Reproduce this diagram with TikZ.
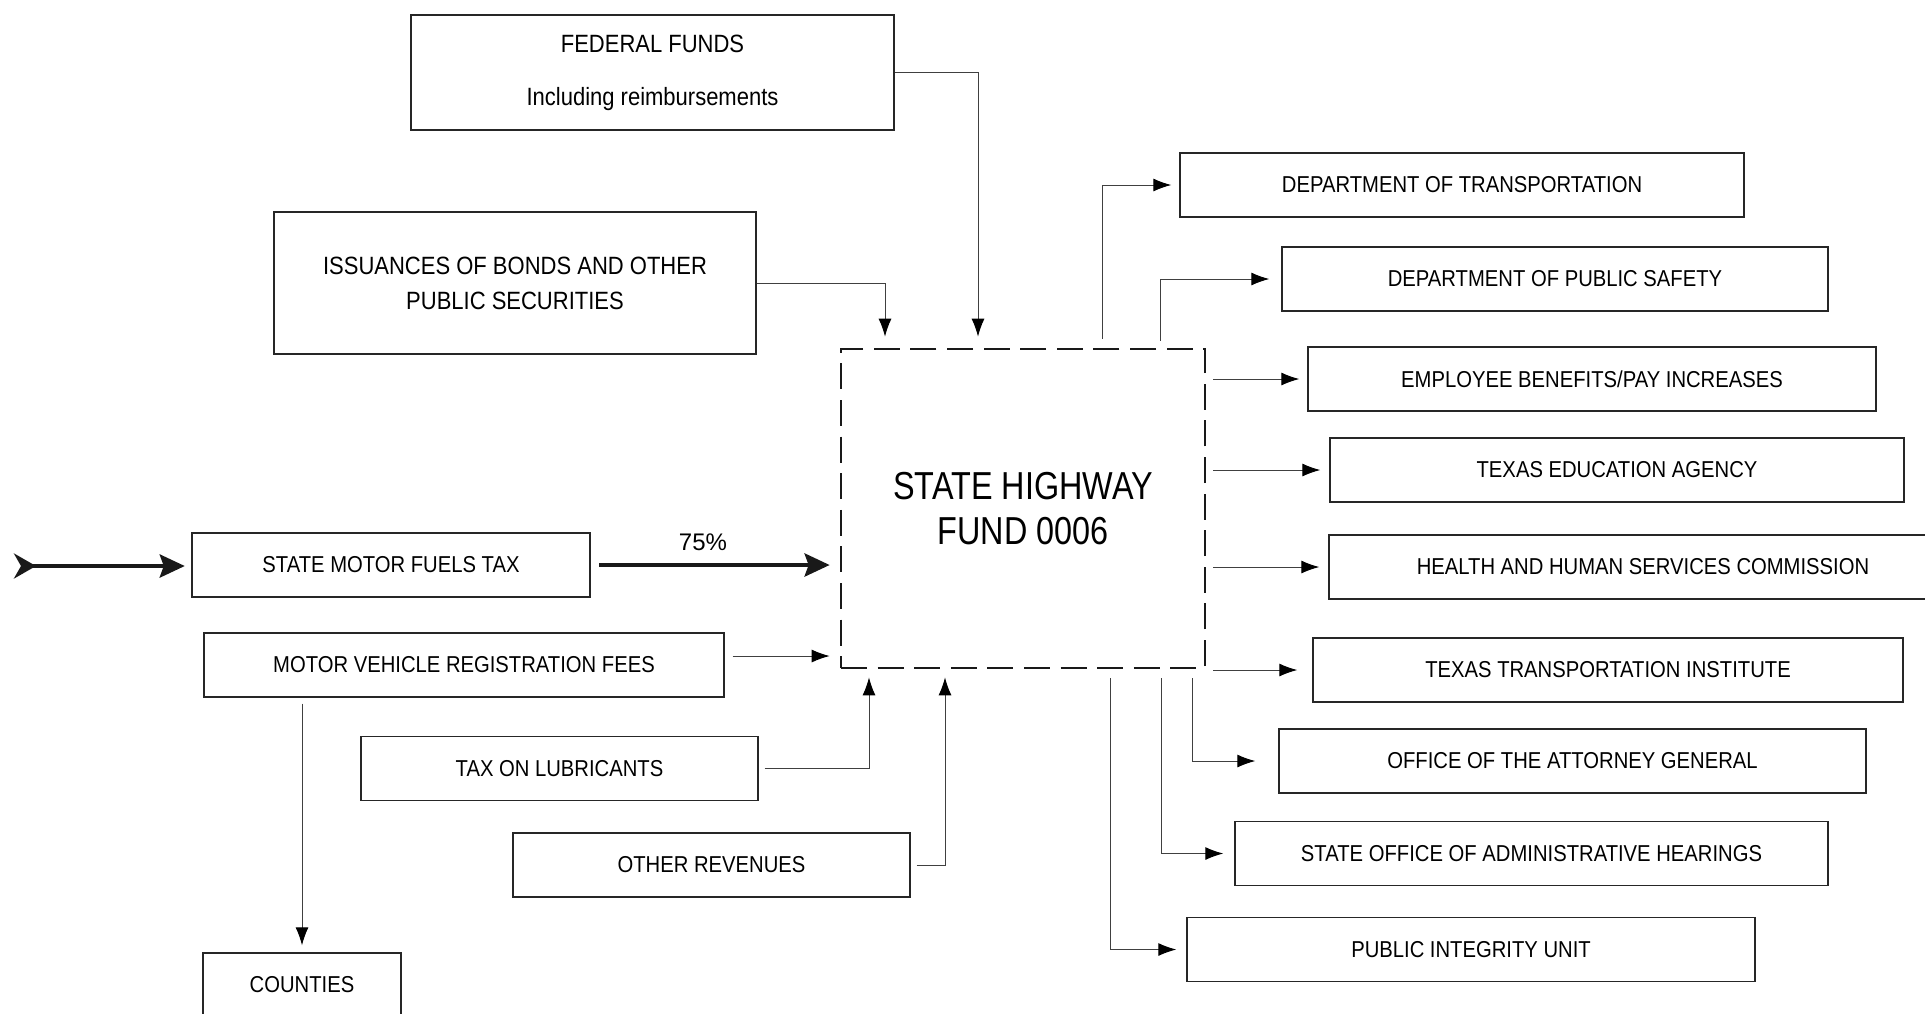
\documentclass[tikz,border=0pt]{standalone}
\usepackage{fontspec}
\setmainfont{Liberation Sans}[FakeStretch=0.88]
\newfontfamily\titlefont{Liberation Sans}[FakeStretch=0.83]
\newfontfamily\plainfont{Liberation Sans}
\usetikzlibrary{arrows.meta}
\begin{document}
\begin{tikzpicture}[x=0.5bp,y=-0.5bp,line join=miter,
  box/.style={draw=black!85,line width=0.7bp,inner sep=0pt,minimum height=32bp,
    font=\fontsize{11.5bp}{14bp}\selectfont},
  topbox/.style={box,align=center,font=\fontsize{12.5bp}{15bp}\selectfont},
  fundbox/.style={draw=black!90,line width=1.35bp,dash pattern=on 13bp off 5.3bp,
    inner sep=0pt,align=center,font=\titlefont\fontsize{19.5bp}{22.5bp}\selectfont},
  flow/.style={draw=black!75,line width=0.5bp,-{Latex[length=9bp,width=6.5bp,color=black]}},
  bigflow/.style={draw=black!90,line width=2.1bp,-{Stealth[length=12.5bp,width=11.5bp,inset=2bp]}}]
\useasboundingbox (0,0) rectangle (1925,1013);
%%
\node (node_fed) at (652.5,72.5) [topbox,minimum width=241.5bp,minimum height=57.5bp] {FEDERAL FUNDS\\[11.5bp]Including reimbursements};
  \node (node_bonds) at (515,283) [topbox,minimum width=241bp,minimum height=71bp] {ISSUANCES OF BONDS AND OTHER\\[2.5bp]PUBLIC SECURITIES};
  \node (node_fuels) at (391,565) [box,line width=1.2bp,minimum width=199bp] {STATE MOTOR FUELS TAX};
  \node (node_mvr) at (464,665) [box,minimum width=260bp] {MOTOR VEHICLE REGISTRATION FEES};
  \node (node_lub) at (559.5,768.5) [box,minimum width=198.5bp] {TAX ON LUBRICANTS};
  \node (node_other) at (711.5,865) [box,minimum width=198.5bp] {OTHER REVENUES};
  \node (node_counties) at (302,985) [box,minimum width=99bp] {COUNTIES};
  \node (node_fund) at (1023,508.5) [fundbox,minimum width=182bp,minimum height=159.5bp] {STATE HIGHWAY\\FUND 0006};
  \node (node_dot) at (1462,185) [box,minimum width=282bp] {DEPARTMENT OF TRANSPORTATION};
  \node (node_dps) at (1555,279) [box,minimum width=273bp] {DEPARTMENT OF PUBLIC SAFETY};
  \node (node_emp) at (1592,379) [box,minimum width=284bp] {EMPLOYEE BENEFITS/PAY INCREASES};
  \node (node_tea) at (1617,470) [box,minimum width=287bp] {TEXAS EDUCATION AGENCY};
  \node (node_hhs) at (1643,567) [box,minimum width=314bp] {HEALTH AND HUMAN SERVICES COMMISSION};
  \node (node_tti) at (1608,670) [box,minimum width=295bp] {TEXAS TRANSPORTATION INSTITUTE};
  \node (node_oag) at (1572.5,761) [box,minimum width=293.5bp] {OFFICE OF THE ATTORNEY GENERAL};
  \node (node_soah) at (1531.5,853.5) [box,minimum width=296.5bp] {STATE OFFICE OF ADMINISTRATIVE HEARINGS};
  \node (node_piu) at (1471,949.5) [box,minimum width=284bp] {PUBLIC INTEGRITY UNIT};
  \coordinate (fuels_in) at (14,566);
%
  \draw [bigflow,{Stealth[length=11bp,width=12.5bp,inset=3.5bp,reversed]}-{Stealth[length=12.5bp,width=11.5bp,inset=2bp]},shorten >=3bp] (fuels_in) -- (fuels_in -| node_fuels.west);
  \draw [bigflow,shorten <=4bp,shorten >=5bp] (node_fuels.east) -- (node_fuels.east -| node_fund.west)
    node [pos=0.45,above=3bp,font=\plainfont\fontsize{12bp}{14bp}\selectfont] {75\%};
  \draw [flow,shorten >=5.5bp] (node_fed.east) -| ([xshift=-22.5bp]node_fund.north);
  \draw [flow,shorten >=5.5bp] (node_bonds.east) -| ([xshift=-69bp]node_fund.north);
  \draw [flow,shorten <=4bp,shorten >=5bp] ([yshift=4.5bp]node_mvr.east) -- ([yshift=4.5bp]node_mvr.east -| node_fund.west);
  \draw [flow,shorten <=3bp,shorten >=3.5bp] (node_mvr.south -| node_counties.north) -- (node_counties.north);
  \draw [flow,shorten <=3bp,shorten >=4bp] (node_lub.east) -| ([xshift=-77bp]node_fund.south);
  \draw [flow,shorten <=3bp,shorten >=4bp] (node_other.east) -| ([xshift=-39bp]node_fund.south);
%
  \draw [flow,shorten <=4.5bp,shorten >=4bp] ([xshift=39.5bp]node_fund.north) |- (node_dot.west);
  \draw [flow,shorten <=3.5bp,shorten >=6bp] ([xshift=68.5bp]node_fund.north) |- (node_dps.west);
  \draw [flow,shorten <=3.5bp,shorten >=4bp] (node_fund.east |- node_emp.west) -- (node_emp.west);
  \draw [flow,shorten <=3.5bp,shorten >=4.5bp] (node_fund.east |- node_tea.west) -- (node_tea.west);
  \draw [flow,shorten <=3.5bp,shorten >=4.5bp] (node_fund.east |- node_hhs.west) -- (node_hhs.west);
  \draw [flow,shorten <=3.5bp,shorten >=7.5bp] (node_fund.east |- node_tti.west) -- (node_tti.west);
  \draw [flow,shorten <=4.5bp,shorten >=11.5bp] ([xshift=84.5bp]node_fund.south) |- (node_oag.west);
  \draw [flow,shorten <=4.5bp,shorten >=5.5bp] ([xshift=69bp]node_fund.south) |- (node_soah.west);
  \draw [flow,shorten <=4.5bp,shorten >=5bp] ([xshift=43.5bp]node_fund.south) |- (node_piu.west);
%
\end{tikzpicture}
\end{document}
